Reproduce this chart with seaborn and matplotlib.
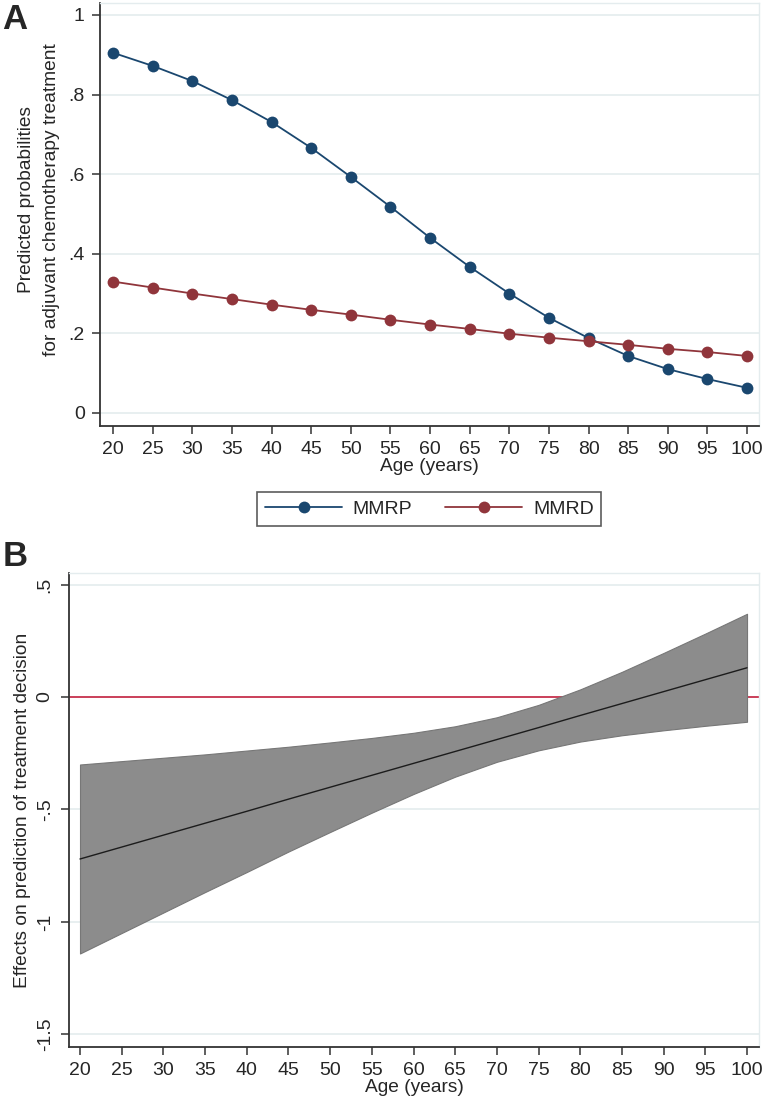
"""Recreate predicted probability and effect plots by age."""

import matplotlib

matplotlib.use("Agg")
import matplotlib.pyplot as plt
import pandas as pd
import seaborn as sns

AGES = [20, 25, 30, 35, 40, 45, 50, 55, 60, 65, 70, 75, 80, 85, 90, 95, 100]
MMRP_PROB = [0.905, 0.872, 0.834, 0.786, 0.731, 0.666, 0.593, 0.518, 0.440,
             0.367, 0.300, 0.239, 0.188, 0.143, 0.110, 0.085, 0.063]
MMRD_PROB = [0.330, 0.315, 0.300, 0.286, 0.272, 0.259, 0.247, 0.234, 0.222,
             0.211, 0.199, 0.189, 0.180, 0.171, 0.161, 0.153, 0.143]

EFFECT = [-0.720, -0.667, -0.614, -0.561, -0.508, -0.454, -0.401, -0.348, -0.295,
          -0.242, -0.189, -0.136, -0.082, -0.029, 0.024, 0.077, 0.130]
EFFECT_UPPER = [-0.300, -0.285, -0.270, -0.255, -0.238, -0.221, -0.202, -0.182, -0.159,
                -0.130, -0.090, -0.035, 0.034, 0.112, 0.196, 0.282, 0.370]
EFFECT_LOWER = [-1.140, -1.049, -0.958, -0.867, -0.778, -0.687, -0.600, -0.514, -0.431,
                -0.354, -0.288, -0.237, -0.198, -0.170, -0.148, -0.128, -0.110]

GROUPS = ["MMRP", "MMRD"]
PALETTE = {"MMRP": "#1a476f", "MMRD": "#90353b"}
GRID_COLOR = "#e4ecee"
SPINE_COLOR = "#333333"
TICK_SIZE = 14
LABEL_SIZE = 13.8

sns.set_theme(style="white")
plt.rcParams["font.family"] = ["Liberation Sans", "DejaVu Sans"]


def style_axes(ax):
    """Stata-like axis styling."""
    for side in ["left", "bottom"]:
        ax.spines[side].set_color(SPINE_COLOR)
        ax.spines[side].set_linewidth(1.3)
    for side in ["top", "right"]:
        ax.spines[side].set_color(GRID_COLOR)
        ax.spines[side].set_linewidth(1.0)
    ax.tick_params(axis="both", direction="out", length=6, width=1.1,
                   color=SPINE_COLOR, labelsize=TICK_SIZE, pad=5,
                   bottom=True, left=True)
    ax.yaxis.grid(True, color=GRID_COLOR, linewidth=1.2)
    ax.xaxis.grid(False)
    ax.set_axisbelow(True)


fig = plt.figure(figsize=(7.65, 11.08), dpi=100)

# Panel A
ax_a = fig.add_axes([0.1307, 0.6155, 0.8614, 0.3818])
prob_df = pd.DataFrame({
    "age": AGES * 2,
    "prob": MMRP_PROB + MMRD_PROB,
    "group": ["MMRP"] * len(AGES) + ["MMRD"] * len(AGES),
})
sns.lineplot(data=prob_df, x="age", y="prob", hue="group", hue_order=GROUPS,
             palette=PALETTE, marker="o", markersize=8.5, markeredgewidth=0,
             linewidth=1.3, ax=ax_a, legend=False)
ax_a.set_xlim(18.36, 101.5)
ax_a.set_ylim(-0.033, 1.03)
ax_a.set_xticks(AGES)
ax_a.set_yticks([0, 0.2, 0.4, 0.6, 0.8, 1.0])
ax_a.set_yticklabels(["0", ".2", ".4", ".6", ".8", "1"])
style_axes(ax_a)
ax_a.set_xlabel("Age (years)", fontsize=LABEL_SIZE, labelpad=0)
ax_a.set_ylabel("Predicted probabilities\nfor adjuvant chemotherapy treatment",
                fontsize=LABEL_SIZE, linespacing=1.6, va="center")
ax_a.yaxis.set_label_coords(-0.092, 0.535)

handles = [
    plt.Line2D([], [], color=PALETTE[g], marker="o", markersize=8.5,
               markeredgewidth=0, linewidth=1.3)
    for g in GROUPS
]
leg = fig.legend(handles, GROUPS, loc="center", bbox_to_anchor=(0.5614, 0.5406),
                 ncol=2, fontsize=TICK_SIZE, frameon=True, fancybox=False,
                 handlelength=3.95, columnspacing=1.7, borderpad=0.4,
                 handletextpad=0.55)
leg.get_frame().set_edgecolor(SPINE_COLOR)
leg.get_frame().set_linewidth(1.2)

# Panel B
ax_b = fig.add_axes([0.0902, 0.0550, 0.9020, 0.4278])
effect_df = pd.DataFrame({"age": AGES, "effect": EFFECT,
                          "upper": EFFECT_UPPER, "lower": EFFECT_LOWER})
ax_b.fill_between(effect_df["age"], effect_df["lower"], effect_df["upper"],
                  color="#8c8c8c", edgecolor="#777777", linewidth=0.8, zorder=2)
ax_b.axhline(0, color="#c8324e", linewidth=1.3, zorder=1.5)
sns.lineplot(data=effect_df, x="age", y="effect", color="#1c1c1c",
             linewidth=1.0, ax=ax_b, zorder=3)
ax_b.set_xlim(18.68, 101.44)
ax_b.set_ylim(-1.556, 0.551)
ax_b.set_xticks(AGES)
ax_b.set_yticks([-1.5, -1.0, -0.5, 0, 0.5])
ax_b.set_yticklabels(["-1.5", "-1", "-.5", "0", ".5"], rotation=90, va="center")
style_axes(ax_b)
ax_b.set_xlabel("Age (years)", fontsize=LABEL_SIZE, labelpad=0)
ax_b.set_ylabel("Effects on prediction of treatment decision",
                fontsize=LABEL_SIZE, va="center")
ax_b.yaxis.set_label_coords(-0.068, 0.5)

fig.text(0.003, 0.997, "A", fontsize=25, fontweight="bold", va="top", ha="left")
fig.text(0.003, 0.513, "B", fontsize=25, fontweight="bold", va="top", ha="left")

fig.savefig("out.png", dpi=100)
